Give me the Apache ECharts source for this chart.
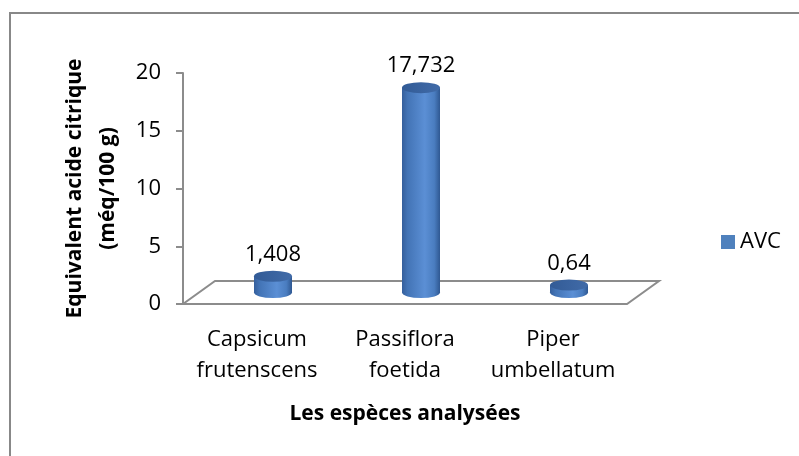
<!DOCTYPE html>
<html>
  <head>
    <meta http-equiv="Content-Type" content="text/html; charset=UTF-8">
    <title></title>
    <script src="https://cdn.jsdelivr.net/npm/echarts@6/dist/echarts.min.js" charset="utf-8"></script>
    <style type="text/css">
      * {margin: 0; padding: 0;}
      body {background: #fff;}
    </style>
  </head>
  <body>
    <div id="chart" style="width:799px;height:456px"></div>

    <script type="text/javascript">
      var categories = ['Capsicum\nfrutenscens', 'Passiflora\nfoetida', 'Piper\numbellatum'];
      var avcValues = [1.408, 17.732, 0.64];
      var yTicks = [0, 5, 10, 15, 20];

      var FONT = 'Open Sans';
      var depthX = 32, depthY = 23;   // floor depth (pseudo 3D)
      var barW = 38, capH = 11;

      // front plane (axes + labels)
      var front = {left: 183, right: 172, top: 73, bottom: 152};
      // mid-depth plane (cylinders)
      var mid = {
        left: front.left + depthX / 2,
        right: front.right - depthX / 2,
        top: front.top - depthY / 2,
        bottom: front.bottom + depthY / 2
      };

      var bodyColor = new echarts.graphic.LinearGradient(0, 0, 1, 0, [
        {offset: 0, color: '#355f9c'},
        {offset: 0.15, color: '#4374b6'},
        {offset: 0.6, color: '#5b8fd5'},
        {offset: 0.85, color: '#4a7dc0'},
        {offset: 1, color: '#2f5892'}
      ]);
      var topColor = new echarts.graphic.LinearGradient(0, 0, 1, 0, [
        {offset: 0, color: '#325b96'},
        {offset: 1, color: '#416ba8'}
      ]);

      var chart = echarts.init(document.getElementById('chart'));

      var fx0 = front.left, fx1 = 799 - front.right, fy = 456 - front.bottom;

      var option = {
        animation: false,
        textStyle: {fontFamily: FONT},
        grid: [
          {left: front.left, right: front.right, top: front.top, bottom: front.bottom},
          {left: mid.left, right: mid.right, top: mid.top, bottom: mid.bottom}
        ],
        legend: {
          data: ['AVC'],
          left: 716, top: 226,
          icon: 'rect', itemWidth: 14, itemHeight: 14, itemGap: 5,
          itemStyle: {color: '#4f81bd'},
          textStyle: {fontSize: 22, color: '#000', fontFamily: FONT}
        },
        xAxis: [
          {
            type: 'category', gridIndex: 0, data: categories,
            axisLine: {show: false}, axisTick: {show: false},
            axisLabel: {color: '#000', fontSize: 22, lineHeight: 31, margin: 20, interval: 0},
            name: 'Les espèces analysées', nameLocation: 'middle', nameGap: 100,
            nameTextStyle: {fontSize: 21, fontWeight: 'bold', color: '#000'}
          },
          {
            type: 'category', gridIndex: 1, data: categories, show: false
          }
        ],
        yAxis: [
          {
            type: 'value', gridIndex: 0, min: 0, max: 20, interval: 5,
            axisLine: {show: true, lineStyle: {color: '#8c8c8c', width: 2}},
            axisTick: {show: true, length: 7, lineStyle: {color: '#8c8c8c', width: 2}},
            splitLine: {show: false},
            axisLabel: {color: '#000', fontSize: 22, margin: 22,
              formatter: function (v) { return yTicks.indexOf(v) >= 0 ? String(v) : ''; }},
            name: 'Equivalent acide citrique\n(méq/100 g)',
            nameLocation: 'middle', nameRotate: 90, nameGap: 56,
            nameTextStyle: {fontSize: 21, fontWeight: 'bold', color: '#000', lineHeight: 33}
          },
          {
            type: 'value', gridIndex: 1, min: 0, max: 20, interval: 5, show: false
          }
        ],
        graphic: [
          {
            type: 'rect', silent: true, z: -10,
            shape: {x: 10, y: 13, width: 820, height: 480},
            style: {fill: 'none', stroke: '#888', lineWidth: 2}
          },
          {
            type: 'polygon', silent: true, z: 0,
            shape: {points: [[fx0, fy], [fx1, fy], [fx1 + depthX, fy - depthY], [fx0 + depthX, fy - depthY]]},
            style: {fill: 'none', stroke: '#8c8c8c', lineWidth: 2}
          }
        ],
        series: [
          {
            name: 'AVC', type: 'bar', xAxisIndex: 1, yAxisIndex: 1,
            data: avcValues, barWidth: barW, z: 3,
            itemStyle: {color: bodyColor}
          },
          {
            // bottom of the cylinder
            name: 'AVC', type: 'pictorialBar', xAxisIndex: 1, yAxisIndex: 1,
            data: avcValues, symbol: 'circle', symbolSize: [barW, capH],
            symbolOffset: [0, '50%'], z: 2,
            itemStyle: {color: bodyColor}
          },
          {
            // top of the cylinder
            name: 'AVC', type: 'pictorialBar', xAxisIndex: 1, yAxisIndex: 1,
            data: avcValues, symbol: 'circle', symbolSize: [barW, capH],
            symbolPosition: 'end', symbolOffset: [0, '-50%'], z: 4,
            itemStyle: {color: topColor},
            label: {
              show: true, position: 'top', distance: 5,
              color: '#000', fontSize: 22, fontFamily: FONT,
              formatter: function (p) { return String(p.value).replace('.', ','); }
            }
          }
        ]
      };

      chart.setOption(option);
    </script>
  </body>
</html>
